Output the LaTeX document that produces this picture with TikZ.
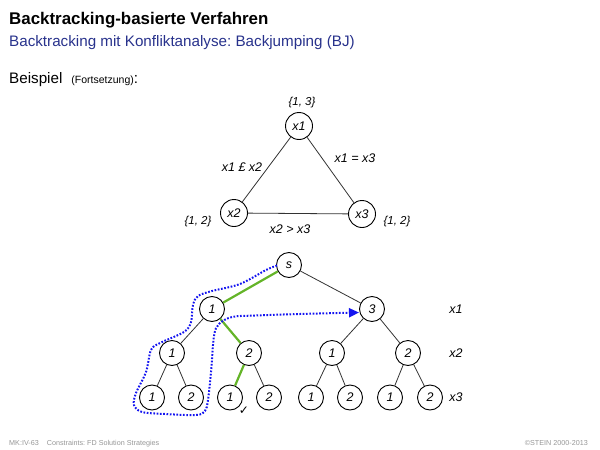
\documentclass[tikz,border=0pt]{standalone}
\usepackage{fontspec}
\setmainfont{Liberation Sans}
\newfontfamily\symfont{DejaVu Sans}
\usetikzlibrary{arrows.meta}
\definecolor{subblue}{RGB}{40,50,140}
\definecolor{edgegreen}{RGB}{100,180,40}
\definecolor{pathblue}{RGB}{20,20,240}
\definecolor{footgray}{RGB}{150,150,150}
\frenchspacing
\begin{document}
\begin{tikzpicture}[x=1pt,y=-1pt,
 vnode/.style={circle,draw,line width=0.9pt,minimum size=27pt,inner sep=0pt,fill=white,font=\itshape\fontsize{12.5}{14}\selectfont},
 tnode/.style={circle,draw,line width=0.9pt,minimum size=25pt,inner sep=0pt,fill=white,font=\itshape\fontsize{12.5}{14}\selectfont},
 edge/.style={line width=0.8pt, draw=black!80},
 sel/.style={line width=2.2pt, draw=edgegreen},
 lbl/.style={font=\itshape\fontsize{12.5}{14}\selectfont, inner sep=0pt},
 dom/.style={font=\itshape\fontsize{11.5}{13}\selectfont, inner sep=0pt},
 foot/.style={font=\fontsize{7.2}{8}\selectfont, text=footgray, inner sep=0pt}
]
\useasboundingbox (0,0) rectangle (600,450);
% header
\node[anchor=base west, inner sep=0pt, font=\bfseries\fontsize{16.9}{19}\selectfont] (title) at (9,24) {Backtracking-basierte Verfahren};
\node[anchor=base west, inner sep=0pt, text=subblue, font=\fontsize{15.2}{17}\selectfont] (sub) at (9,46) {Backtracking mit Konfliktanalyse: Backjumping (BJ)};
\node[anchor=base west, inner sep=0pt, font=\fontsize{15.2}{17}\selectfont] (bsp) at (9,83) {Beispiel\hspace{9pt}{\fontsize{10.5}{12}\selectfont (Fortsetzung)}:};

% constraint graph
\node[vnode] (x1) at (299,126) {x1};
\node[vnode] (x2) at (234,213) {x2};
\node[vnode] (x3) at (362,214) {x3};
\draw[edge] (x1) -- (x2);
\draw[edge] (x1) -- (x3);
\draw[edge] (x2) -- (x3);
\node[dom] (d1) at (302,103) {\{1, 3\}};
\node[dom] (d2) at (198,222) {\{1, 2\}};
\node[dom] (d3) at (397,222) {\{1, 2\}};
\node[lbl] (c12) at (242,167) {x1 £ x2};
\node[lbl] (c13) at (355,158) {x1 = x3};
\node[lbl] (c23) at (290,229) {x2 > x3};

% search tree
\node[tnode] (s) at (289,265) {s};
\node[tnode] (a1) at (212,309) {1};
\node[tnode] (a3) at (372,309) {3};
\node[tnode] (b1) at (172,353) {1};
\node[tnode] (b2) at (249,353) {2};
\node[tnode] (b3) at (332,353) {1};
\node[tnode] (b4) at (408,353) {2};
\node[tnode] (c1) at (152,397.5) {1};
\node[tnode] (c2) at (191,397.5) {2};
\node[tnode] (c3) at (230,397.5) {1};
\node[tnode] (c4) at (269,397.5) {2};
\node[tnode] (c5) at (311,397.5) {1};
\node[tnode] (c6) at (350,397.5) {2};
\node[tnode] (c7) at (390,397.5) {1};
\node[tnode] (c8) at (430,397.5) {2};

\draw[sel] (s) -- (a1);
\draw[edge] (s) -- (a3);
\draw[edge] (a1) -- (b1);
\draw[sel] (a1) -- (b2);
\draw[edge] (a3) -- (b3);
\draw[edge] (a3) -- (b4);
\draw[edge] (b1) -- (c1);
\draw[edge] (b1) -- (c2);
\draw[sel] (b2) -- (c3);
\draw[edge] (b2) -- (c4);
\draw[edge] (b3) -- (c5);
\draw[edge] (b3) -- (c6);
\draw[edge] (b4) -- (c7);
\draw[edge] (b4) -- (c8);

\node[lbl] (lx1) at (456,309) {x1};
\node[lbl] (lx2) at (456,353) {x2};
\node[lbl] (lx3) at (456,397) {x3};

\node[inner sep=0pt, font=\symfont\fontsize{12}{13}\selectfont] (chk) at (244,411) {✓};

% backjump path
\coordinate (bjstart) at (277,265.5);
\draw[pathblue, line width=2pt, dash pattern=on 1.7pt off 1.6pt, -{Triangle[length=10pt,width=9pt]}]
  plot[smooth, tension=0.55] coordinates {(bjstart) (266,270) (240,284) (212,291) (198,296) (193,305) (191,322) (184,332) (160,343) (151,350) (146,372) (136,393) (134,405) (142,412) (165,414) (196,415) (205,411) (208,400) (211,372) (214,336) (219,324) (232,317) (255,315.5) (300,314) (359,312.5)};

% footer
\node[foot, anchor=base west] (f1) at (9,445) {MK:IV-63\hspace{8pt}Constraints: FD Solution Strategies};
\node[foot, anchor=base east] (f2) at (588,445) {©STEIN 2000-2013};
\end{tikzpicture}
\end{document}
